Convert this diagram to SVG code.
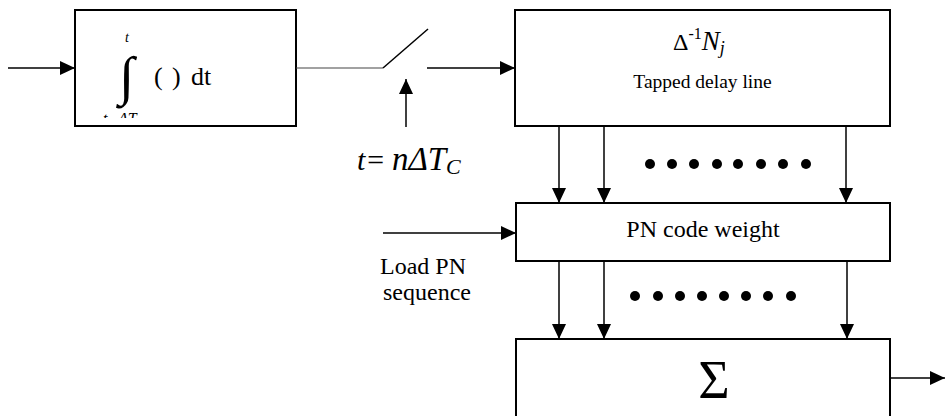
<svg xmlns="http://www.w3.org/2000/svg" width="945" height="416" viewBox="0 0 945 416">
<style>
.box{fill:#fff;stroke:#000;stroke-width:2}
.ln{fill:none;stroke:#000;stroke-width:1.5}
.thin{fill:none;stroke:#444;stroke-width:1.2}
.dot{fill:#000}
</style>
<defs>
<marker id="ah" markerUnits="userSpaceOnUse" markerWidth="15" markerHeight="14" refX="15" refY="7" orient="auto">
<path d="M0,0 L15,7 L0,14 z" fill="#000"/>
</marker>
<clipPath id="clipInt"><rect x="75" y="9" width="221" height="109"/></clipPath>
</defs>
<rect width="945" height="416" fill="#fff"/>
<g font-family="'Liberation Serif', 'Times New Roman', serif" fill="#000">
<g id="integrator">
<rect class="box" x="75" y="10" width="221" height="116"/>
<text x="125" y="42" font-size="14" font-style="italic">t</text>
<text x="0" y="0" font-size="40" font-weight="bold" transform="translate(119,94) scale(1.4,1.34)">∫</text>
<text x="154" y="85" font-size="26">(<tspan x="172">)</tspan><tspan x="191">dt</tspan></text>
<text x="103" y="124" font-size="16" font-style="italic" clip-path="url(#clipInt)">t−ΔT</text>
</g>
<g id="switch">
<line class="thin" x1="296" y1="68" x2="383" y2="68"/>
<line class="ln" x1="383" y1="68" x2="428" y2="29"/>
<text x="357" y="170" font-size="30" font-style="italic">t=<tspan x="392" font-size="33">nΔT</tspan><tspan x="446" font-size="22" dy="4">C</tspan></text>
</g>
<g id="delay-line">
<rect class="box" x="515" y="10" width="375" height="116"/>
<text x="673" y="50" font-size="24">Δ<tspan font-size="16" dy="-11">-1</tspan><tspan font-style="italic" font-size="27" dy="11">N</tspan><tspan font-style="italic" font-size="18" dy="4">j</tspan></text>
<text x="702.5" y="88" font-size="19.5" text-anchor="middle">Tapped delay line</text>
</g>
<g id="pn-weight">
<rect class="box" x="516" y="203" width="374" height="58"/>
<text x="703" y="237" font-size="24" text-anchor="middle">PN code weight</text>
</g>
<g id="load-label">
<text x="380" y="274" font-size="24">Load PN</text>
<text x="383" y="300" font-size="24">sequence</text>
</g>
<g id="summer">
<rect class="box" x="516" y="339" width="374" height="78"/>
<text x="714" y="398" font-size="54" text-anchor="middle">Σ</text>
</g>
</g>
<g id="dots">
<circle class="dot" cx="650" cy="164" r="5"/><circle class="dot" cx="672" cy="164" r="5"/><circle class="dot" cx="694" cy="164" r="5"/><circle class="dot" cx="717" cy="164" r="5"/><circle class="dot" cx="738" cy="164" r="5"/><circle class="dot" cx="761" cy="164" r="5"/><circle class="dot" cx="783" cy="164" r="5"/><circle class="dot" cx="806" cy="164" r="5"/>
<circle class="dot" cx="635" cy="296" r="5"/><circle class="dot" cx="658" cy="296" r="5"/><circle class="dot" cx="680" cy="296" r="5"/><circle class="dot" cx="702" cy="296" r="5"/><circle class="dot" cx="724" cy="296" r="5"/><circle class="dot" cx="746" cy="296" r="5"/><circle class="dot" cx="768" cy="296" r="5"/><circle class="dot" cx="791" cy="296" r="5"/>
</g>
<g id="connectors">
<line class="ln" x1="8" y1="68" x2="75" y2="68" marker-end="url(#ah)"/>
<line class="ln" x1="427" y1="68" x2="515" y2="68" marker-end="url(#ah)"/>
<line class="ln" x1="406" y1="127" x2="406" y2="79" marker-end="url(#ah)"/>
<line class="ln" x1="559" y1="126" x2="559" y2="203" marker-end="url(#ah)"/>
<line class="ln" x1="604" y1="126" x2="604" y2="203" marker-end="url(#ah)"/>
<line class="ln" x1="846" y1="126" x2="846" y2="203" marker-end="url(#ah)"/>
<line class="ln" x1="383" y1="233" x2="516" y2="233" marker-end="url(#ah)"/>
<line class="ln" x1="559" y1="261" x2="559" y2="339" marker-end="url(#ah)"/>
<line class="ln" x1="604" y1="261" x2="604" y2="339" marker-end="url(#ah)"/>
<line class="ln" x1="847" y1="261" x2="847" y2="339" marker-end="url(#ah)"/>
<line class="ln" x1="890" y1="378" x2="945" y2="378" marker-end="url(#ah)"/>
</g>
</svg>
